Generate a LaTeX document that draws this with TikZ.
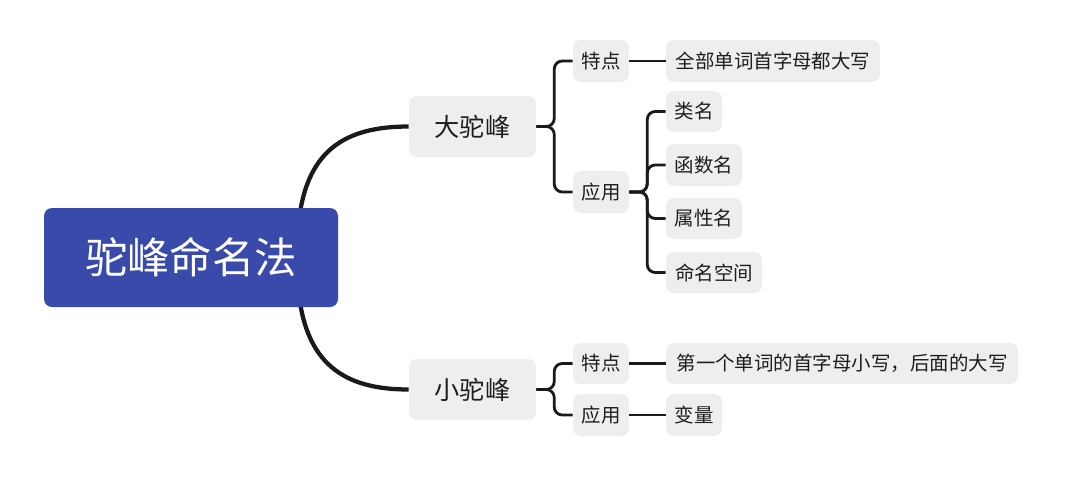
\documentclass[tikz,border=0pt]{standalone}
\usepackage{fontspec}
\setmainfont{Noto Sans CJK SC}
\usetikzlibrary{calc}
\definecolor{rootblue}{HTML}{3A4AAA}
\definecolor{nodegray}{HTML}{EEEEEE}
\definecolor{linec}{HTML}{1A1A1A}
\definecolor{txt}{HTML}{1E1E1E}
\tikzset{
  rootbox/.style={fill=rootblue, rounded corners=6pt, text=white, inner sep=0pt,
    font=\fontsize{31.8}{34}\selectfont},
  midbox/.style={fill=nodegray, rounded corners=6pt, text=txt, inner sep=0pt,
    font=\fontsize{18.9}{21}\selectfont},
  leafbox/.style={fill=nodegray, rounded corners=6pt, text=txt, inner sep=0pt,
    font=\fontsize{14.6}{16}\selectfont},
  thick1/.style={draw=linec, line width=3.2pt},
  branch/.style={draw=linec, line width=2.1pt, rounded corners=6pt},
}
\begin{document}
\begin{tikzpicture}[x=0.75pt,y=-0.75pt]
\useasboundingbox (0,0) rectangle (1065,479);
% curves behind root
\coordinate (cs1) at (298,230);
\coordinate (cs2) at (298,285);
\node[midbox, minimum width=127*0.75pt, minimum height=61*0.75pt] (big) at (472.5,126.5) {大驼峰};
\node[midbox, minimum width=127*0.75pt, minimum height=61*0.75pt] (small) at (472.5,389.5) {小驼峰};
\draw[thick1] (cs1) .. controls (304,150) and (345,126.5) .. (big.west);
\draw[thick1] (cs2) .. controls (304,365) and (345,389.5) .. (small.west);
\node[rootbox, minimum width=294*0.75pt, minimum height=99*0.75pt] (root) at (191,257.5) {驼峰命名法};

\node[leafbox, minimum width=56*0.75pt, minimum height=42*0.75pt] (td1) at (601,61) {特点};
\node[leafbox, minimum width=214*0.75pt, minimum height=42*0.75pt] (qb) at (773,61) {全部单词首字母都大写};
\node[leafbox, minimum width=56*0.75pt, minimum height=42*0.75pt] (yy1) at (601,192) {应用};
\node[leafbox, minimum width=56*0.75pt, minimum height=41*0.75pt] (lm) at (694,111.5) {类名};
\node[leafbox, minimum width=76*0.75pt, minimum height=42*0.75pt] (hs) at (704,165) {函数名};
\node[leafbox, minimum width=76*0.75pt, minimum height=41*0.75pt] (sx) at (704,218.5) {属性名};
\node[leafbox, minimum width=96*0.75pt, minimum height=41*0.75pt] (mk) at (714,272.5) {命名空间};

\node[leafbox, minimum width=56*0.75pt, minimum height=41*0.75pt] (td2) at (601,363.5) {特点};
\node[leafbox, minimum width=352*0.75pt, minimum height=41*0.75pt] (dy) at (842,363.5) {第一个单词的首字母小写，后面的大写};
\node[leafbox, minimum width=56*0.75pt, minimum height=42*0.75pt] (yy2) at (601,415) {应用};
\node[leafbox, minimum width=56*0.75pt, minimum height=42*0.75pt] (bl) at (694,415) {变量};

% branches
\draw[branch] (big.east) -- ++(18,0) |- (td1.west);
\draw[branch] (big.east) -- ++(18,0) |- (yy1.west);
\draw[branch] (td1.east) -- (qb.west);
\draw[branch] (yy1.east) -- ++(18,0) |- (lm.west);
\draw[branch] (yy1.east) -- ++(18,0) |- (hs.west);
\draw[branch] (yy1.east) -- ++(18,0) |- (sx.west);
\draw[branch] (yy1.east) -- ++(18,0) |- (mk.west);
\draw[branch] (small.east) -- ++(18,0) |- (td2.west);
\draw[branch] (small.east) -- ++(18,0) |- (yy2.west);
\draw[branch] (td2.east) -- (dy.west);
\draw[branch] (yy2.east) -- (bl.west);
\end{tikzpicture}
\end{document}
